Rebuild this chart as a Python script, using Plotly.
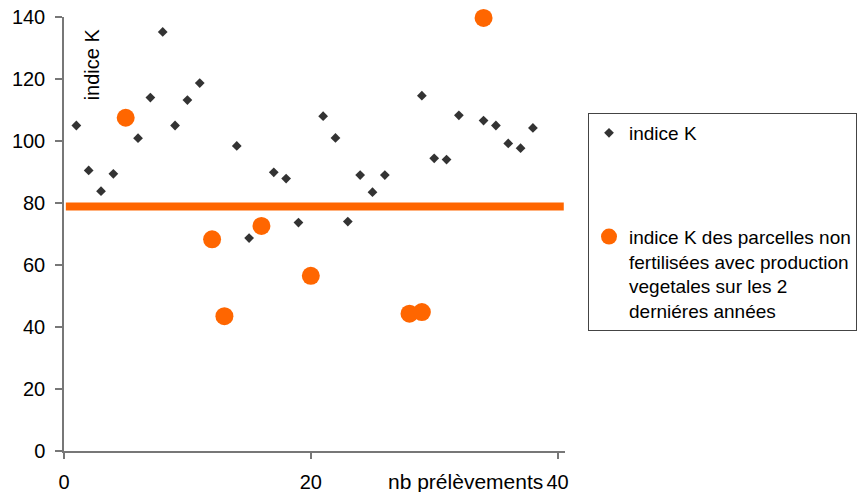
import plotly.graph_objects as go

# Indice K per sample (x = sample number)
k_x = [1, 2, 3, 4, 6, 7, 8, 9, 10, 11, 14, 15, 17, 18, 19, 21, 22, 23, 24, 25, 26,
       29, 30, 31, 32, 34, 35, 36, 37, 38]
k_y = [105.0, 90.5, 83.8, 89.4, 100.9, 114.0, 135.2, 105.0, 113.2, 118.7, 98.4, 68.7,
       89.9, 87.9, 73.7, 108.0, 101.0, 74.0, 89.0, 83.5, 89.0,
       114.6, 94.4, 94.0, 108.3, 106.6, 105.0, 99.2, 97.7, 104.2]

# Indice K of non-fertilised plots with crop production over the last 2 years
nf_x = [5, 12, 13, 16, 20, 28, 29, 34]
nf_y = [107.5, 68.3, 43.5, 72.6, 56.5, 44.3, 44.8, 139.7]

# Reference level line
ref_x = [0.15, 40.5]
ref_y = [78.9, 78.9]

x_ticks = [0, 20, 40]
y_ticks = [0, 20, 40, 60, 80, 100, 120, 140]

FONT = "Liberation Sans, Arial, sans-serif"
ORANGE = "#FF6600"
AXIS = "#777777"

fig = go.Figure()

fig.add_trace(go.Scatter(
    x=ref_x, y=ref_y, mode="lines",
    line=dict(color=ORANGE, width=8),
    showlegend=False, hoverinfo="skip",
))

fig.add_trace(go.Scatter(
    x=k_x, y=k_y, mode="markers", name="indice K",
    legendgroup="a",
    marker=dict(symbol="diamond", size=7.5, color="#333333"),
))

fig.add_trace(go.Scatter(
    x=nf_x, y=nf_y, mode="markers",
    name=("indice K des parcelles non<br>fertilisées avec production<br>"
          "vegetales sur les 2<br>derniéres années"),
    legendgroup="b",
    marker=dict(symbol="circle", size=18, color=ORANGE),
    cliponaxis=False,
))

fig.update_layout(
    width=866, height=492,
    margin=dict(l=64, r=301, t=17, b=41),
    paper_bgcolor="white", plot_bgcolor="white",
    font=dict(family=FONT, color="black", size=20),
    xaxis=dict(
        range=[0, 40.6], tickvals=x_ticks, showgrid=False, zeroline=False,
        showline=True, linecolor=AXIS, linewidth=1.5, automargin=False,
        ticks="outside", ticklen=6, tickcolor=AXIS, tickwidth=1.5,
        tickfont=dict(size=20, family=FONT), ticklabelstandoff=6,
    ),
    yaxis=dict(
        range=[0, 140], tickvals=y_ticks, showgrid=False, zeroline=False,
        showline=True, linecolor=AXIS, linewidth=1.5, automargin=False,
        ticks="outside", ticklen=7, tickcolor=AXIS, tickwidth=1.5,
        tickfont=dict(size=20, family=FONT), ticklabelstandoff=6,
    ),
    legend=dict(
        xref="container", yref="container",
        x=588 / 866, y=1 - 113 / 492, xanchor="left", yanchor="top",
        bordercolor="#444444", borderwidth=1, bgcolor="white",
        font=dict(size=19, family=FONT), valign="top",
        traceorder="grouped", tracegroupgap=76, itemwidth=30,
    ),
    annotations=[
        dict(text="indice K", textangle=-90, showarrow=False,
             xref="paper", yref="paper", x=28 / 500.6, y=(450.7 - 64) / 434,
             xanchor="center", yanchor="middle", font=dict(size=20, family=FONT)),
        dict(text="nb prélèvements", showarrow=False,
             xref="x", yref="paper", x=40, y=0, xanchor="right", yanchor="middle",
             xshift=-13, yshift=-30, font=dict(size=21, family=FONT)),
    ],
)

fig.write_html("out.html")
